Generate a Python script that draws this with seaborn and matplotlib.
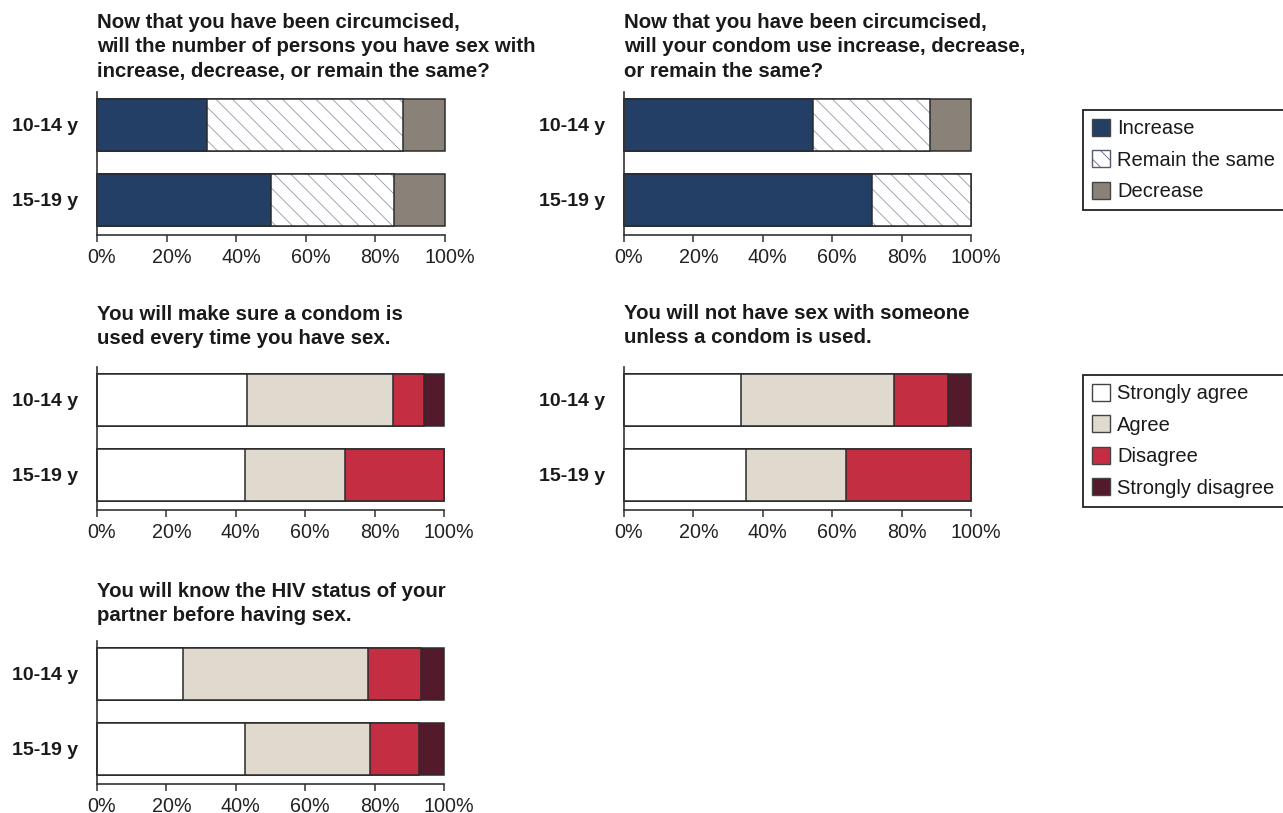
import numpy as np
import matplotlib
matplotlib.use('Agg')
import matplotlib.pyplot as plt
import matplotlib.transforms as mtransforms
import seaborn as sns
from matplotlib.patches import Patch

ages = ['10-14 y', '15-19 y']

change_labels = ['Increase', 'Remain the same', 'Decrease']
agree_labels = ['Strongly agree', 'Agree', 'Disagree', 'Strongly disagree']

# percent of boys per answer
partners_10_14 = [31.6, 56.3, 12.1]
partners_15_19 = [50.0, 35.3, 14.7]
condom_use_10_14 = [54.5, 33.8, 11.7]
condom_use_15_19 = [71.4, 28.6, 0.0]
every_time_10_14 = [43.3, 42.0, 8.8, 5.9]
every_time_15_19 = [42.6, 28.8, 28.6, 0.0]
no_condom_10_14 = [33.8, 44.1, 15.6, 6.5]
no_condom_15_19 = [35.3, 28.7, 36.0, 0.0]
hiv_status_10_14 = [24.9, 53.1, 15.4, 6.6]
hiv_status_15_19 = [42.6, 36.1, 14.1, 7.2]

titles = [
    'Now that you have been circumcised,\nwill the number of persons you have sex with\nincrease, decrease, or remain the same?',
    'Now that you have been circumcised,\nwill your condom use increase, decrease,\nor remain the same?',
    'You will make sure a condom is\nused every time you have sex.',
    'You will not have sex with someone\nunless a condom is used.',
    'You will know the HIV status of your\npartner before having sex.',
]
pct_ticks = [0, 20, 40, 60, 80, 100]

change_colors = ['#233f66', 'white', '#8a8178']
change_hatch = [None, '\\\\', None]
agree_colors = ['white', '#e0dace', '#c42e42', '#521a2a']
agree_hatch = [None, None, None, None]

sns.set_theme(style='ticks')
plt.rcParams['font.family'] = ['Liberation Sans', 'DejaVu Sans']
plt.rcParams['hatch.linewidth'] = 0.55

W, H = 1283, 813
fig = plt.figure(figsize=(W / 100, H / 100), dpi=100)

edge = '#2b2b2b'
text_c = '#1a1a1a'


def px_axes(left, top, width, height=143):
    return fig.add_axes([left / W, 1 - (top + height) / H, width / W, height / H])


def draw_panel(ax, young, old, colors, hatches):
    cum = np.cumsum([young, old], axis=1)
    for i in reversed(range(cum.shape[1])):
        if hatches[i]:
            sns.barplot(x=cum[:, i], y=ages, orient='h', color=colors[i],
                        saturation=1, width=0.7, edgecolor='#8a90a6',
                        linewidth=0, hatch=hatches[i], clip_on=False, ax=ax)
            sns.barplot(x=cum[:, i], y=ages, orient='h', color=edge,
                        saturation=1, width=0.7, fill=False, linewidth=1.1,
                        clip_on=False, ax=ax)
        else:
            sns.barplot(x=cum[:, i], y=ages, orient='h', color=colors[i],
                        saturation=1, width=0.7, edgecolor=edge,
                        linewidth=1.1, clip_on=False, ax=ax)
    ax.set_xlim(0, 100)
    ax.set_ylim(1.47, -0.44)
    ax.set_xticks(pct_ticks)
    ax.set_xticklabels([f'{t}%' for t in pct_ticks])
    ax.set_xlabel('')
    ax.set_ylabel('')
    sns.despine(ax=ax)
    for s in ['left', 'bottom']:
        ax.spines[s].set_color('#333333')
        ax.spines[s].set_linewidth(1.2)
    ax.tick_params(axis='x', length=5, width=1.1, color='#333333', pad=4,
                   labelsize=14.2, labelcolor='#222222')
    ax.tick_params(axis='y', length=0, pad=13.5, labelsize=14, labelcolor=text_c)
    shift = mtransforms.ScaledTranslation(5 / 100, 0, fig.dpi_scale_trans)
    for lbl in ax.get_xticklabels():
        lbl.set_transform(lbl.get_transform() + shift)
    for lbl in ax.get_yticklabels():
        lbl.set_fontweight('bold')


panels = [
    (97, 92, 348, partners_10_14, partners_15_19, change_colors, change_hatch),
    (624, 92, 347, condom_use_10_14, condom_use_15_19, change_colors, change_hatch),
    (97, 367, 347, every_time_10_14, every_time_15_19, agree_colors, agree_hatch),
    (624, 367, 347, no_condom_10_14, no_condom_15_19, agree_colors, agree_hatch),
    (97, 641, 347, hiv_status_10_14, hiv_status_15_19, agree_colors, agree_hatch),
]
title_tops = [13, 13, 305, 304, 582]

for (left, top, width, young, old, cols, hat), title, ttop in zip(panels, titles, title_tops):
    ax = px_axes(left, top, width)
    draw_panel(ax, young, old, cols, hat)
    fig.text(left / W, 1 - ttop / H, title, ha='left', va='top', fontsize=14.7,
             fontweight='bold', color=text_c, linespacing=1.36)


def add_legend(labels, colors, hatches, top):
    handles = []
    for c, h in zip(colors, hatches):
        if h:
            handles.append(Patch(facecolor=c, edgecolor='#555a6e', hatch=h, linewidth=1))
        else:
            handles.append(Patch(facecolor=c, edgecolor='#444444', linewidth=1))
    leg = fig.legend(handles, labels, loc='upper left',
                     bbox_to_anchor=(1083 / W, 1 - top / H), bbox_transform=fig.transFigure,
                     borderaxespad=0, fontsize=14.5, frameon=True, fancybox=False,
                     framealpha=1, edgecolor='#222222', borderpad=0.45,
                     handlelength=0.9, handleheight=0.9, handletextpad=0.35,
                     labelspacing=0.6)
    leg.get_frame().set_linewidth(1.3)
    for t in leg.get_texts():
        t.set_color(text_c)


add_legend(change_labels, change_colors, change_hatch, 110)
add_legend(agree_labels, agree_colors, agree_hatch, 375)

fig.savefig('out.png', dpi=100)
